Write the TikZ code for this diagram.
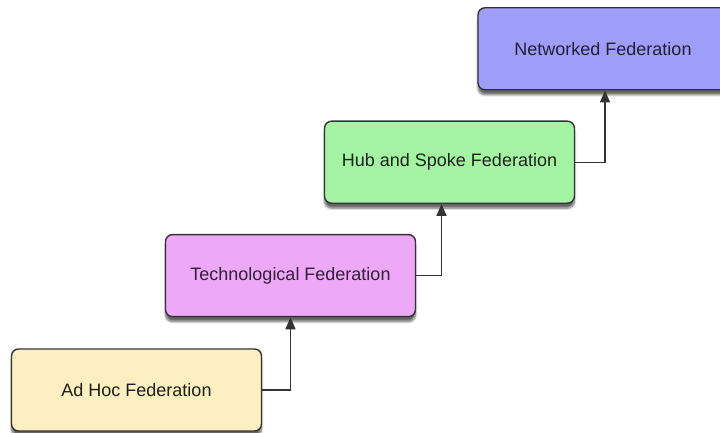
\documentclass[tikz,border=0pt]{standalone}
\usepackage{fontspec}
\setmainfont{Liberation Sans}
\usetikzlibrary{positioning, arrows.meta, shadows.blur}

\definecolor{adhocfill}{HTML}{FCF0C2}
\definecolor{techfill}{HTML}{EEA8F8}
\definecolor{hubfill}{HTML}{A4F4A4}
\definecolor{netfill}{HTML}{9E9EF8}
\definecolor{edgegray}{HTML}{333333}

\begin{document}
\begin{tikzpicture}[x=1pt, y=-1pt, thick]
        % Define block styles
        \tikzstyle{block} = [rectangle, draw=edgegray, line width=1.4pt, rounded corners=7pt, minimum width=250pt, minimum height=82pt, font=\fontsize{18}{20}\selectfont, blur shadow={shadow xshift=0pt, shadow yshift=-5pt, shadow blur steps=8, shadow opacity=60}]
        \tikzstyle{line} = [draw=edgegray, line width=1.4pt, -{Triangle[length=12pt, width=10pt]}]

        \path[use as bounding box, clip] (0,0) rectangle (720,433);

        % Place main nodes
        \node [block, fill=adhocfill, text=adhocfill!12!black] (adhoc) at (136.5,390) {Ad Hoc Federation};
        \node [block, fill=techfill, text=techfill!20!black, above=31pt of adhoc, xshift=154pt] (tech) {Technological Federation};
        \node [block, fill=hubfill, text=hubfill!15!black, above=30pt of tech, xshift=159pt] (hub) {Hub and Spoke Federation};
        \node [block, fill=netfill, text=netfill!20!black, above=30pt of hub, xshift=153.5pt] (net) {Networked Federation};

        % Draw connections as arrows
        \draw [line] (adhoc.east) -| (tech.south);
        \draw [line] (tech.east) -| ([xshift=-8pt]hub.south);
        \draw [line] (hub.east) -| ([xshift=2pt]net.south);

\end{tikzpicture}
\end{document}
